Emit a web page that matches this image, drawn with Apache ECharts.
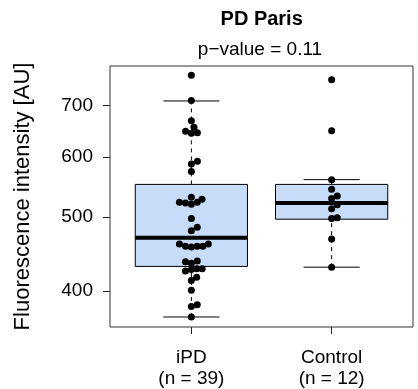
<!DOCTYPE html>
<html>
<head>
<meta charset="utf-8">
<script src="https://cdn.jsdelivr.net/npm/echarts@6/dist/echarts.min.js"></script>
<style>html,body{margin:0;padding:0;background:#fff;}#chart{width:418px;height:389px;}</style>
</head>
<body>
<div id="chart"></div>
<script>
// ---- data ----
const categories = ['iPD', 'Control'];
const groupN = [39, 12];
const positions = [1, 2];
const whiskerLow = [370, 430];
const q1 = [431, 497];
const median = [470, 522];
const q3 = [552, 552];
const whiskerHigh = [710, 560];
const ipdValues = [767, 711, 669, 656, 648, 644, 645, 592, 587, 574, 531, 528, 523, 522, 520, 523, 498, 480, 485,
  461, 458, 457, 458, 458, 461, 437, 435, 438, 425, 427, 428, 428, 413, 417, 401, 382, 384, 370];
const ipdOffsets = [0, 0, 0, 0.019, -0.041, 0, 0.043, 0.043, 0, 0, 0, 0.076, -0.085, -0.042, 0, 0.042, 0, 0, 0.042,
  -0.085, -0.042, 0, 0.041, 0.082, 0.121, -0.042, 0, 0.042, -0.042, 0, 0.038, 0.077, 0, 0.038, 0, 0, 0.042, 0];
const controlValues = [757, 649, 560, 544, 533, 529, 519, 513, 498, 499, 468, 430];
const controlOffsets = [0, 0, 0, 0, 0.04, 0, 0.04, 0, 0, 0.04, 0, 0];
const yTicks = [400, 500, 600, 700];
const yMin = 359, yMax = 789;

const L = v => Math.log10(v);
const boxData = positions.map((p, i) => [p, L(whiskerLow[i]), L(q1[i]), L(median[i]), L(q3[i]), L(whiskerHigh[i])]);
const pts = [];
ipdValues.forEach((v, i) => pts.push([positions[0] + ipdOffsets[i], L(v)]));
controlValues.forEach((v, i) => pts.push([positions[1] + controlOffsets[i], L(v)]));

const FONT = 'Liberation Sans, Arial, Helvetica, sans-serif';
const chart = echarts.init(document.getElementById('chart'), null, {renderer: 'canvas'});
chart.setOption({
  animation: false,
  backgroundColor: '#fff',
  title: [
    {text: 'PD Paris', left: '62.6%', top: 9, textAlign: 'center', padding: 0,
     textStyle: {fontFamily: FONT, fontSize: 20, fontWeight: 'bold', color: '#000'}},
    {text: 'p\u2212value = 0.11', left: '62.2%', top: 40, textAlign: 'center', padding: 0,
     textStyle: {fontFamily: FONT, fontSize: 19, fontWeight: 'normal', color: '#000'}}
  ],
  grid: {left: 110, right: 5, top: 66, bottom: 62, show: true, borderColor: '#333', borderWidth: 1, backgroundColor: 'transparent'},
  xAxis: {
    type: 'value', min: 0.42, max: 2.58,
    splitLine: {show: false}, axisLine: {show: false},
    axisTick: {show: true, customValues: positions, length: 7, lineStyle: {color: '#222'}},
    axisLabel: {
      customValues: positions, margin: 20, fontSize: 19, lineHeight: 21, color: '#000', fontFamily: FONT,
      formatter: v => { const i = positions.indexOf(Math.round(v)); return categories[i] + '\n(n = ' + groupN[i] + ')'; }
    }
  },
  yAxis: {
    type: 'value', min: L(yMin), max: L(yMax),
    name: 'Fluorescence intensity [AU]', nameLocation: 'middle', nameGap: 76,
    nameTextStyle: {fontFamily: FONT, fontSize: 22, color: '#000'},
    splitLine: {show: false}, axisLine: {show: false},
    axisTick: {show: true, customValues: yTicks.map(L), length: 7, lineStyle: {color: '#222'}},
    axisLabel: {
      customValues: yTicks.map(L), margin: 17, fontSize: 19, color: '#000', fontFamily: FONT,
      formatter: v => String(Math.round(Math.pow(10, v)))
    }
  },
  series: [
    {
      type: 'custom', z: 2,
      data: boxData,
      encode: {x: 0, y: [1, 2, 3, 4, 5]},
      renderItem: function (params, api) {
        const x = api.value(0);
        const pLo = api.coord([x, api.value(1)]);
        const pA = api.coord([x, api.value(2)]);
        const pM = api.coord([x, api.value(3)]);
        const pB = api.coord([x, api.value(4)]);
        const pHi = api.coord([x, api.value(5)]);
        const halfBox = api.size([0.8, 0])[0] / 2;
        const halfCap = api.size([0.4, 0])[0] / 2;
        const dash = {stroke: '#000', lineWidth: 1, lineDash: [4, 4]};
        const solid = {stroke: '#000', lineWidth: 1};
        return {type: 'group', children: [
          {type: 'line', shape: {x1: pLo[0], y1: pLo[1], x2: pA[0], y2: pA[1]}, style: dash},
          {type: 'line', shape: {x1: pB[0], y1: pB[1], x2: pHi[0], y2: pHi[1]}, style: dash},
          {type: 'line', shape: {x1: pLo[0] - halfCap, y1: pLo[1], x2: pLo[0] + halfCap, y2: pLo[1]}, style: solid},
          {type: 'line', shape: {x1: pHi[0] - halfCap, y1: pHi[1], x2: pHi[0] + halfCap, y2: pHi[1]}, style: solid},
          {type: 'rect', shape: {x: pB[0] - halfBox, y: pB[1], width: 2 * halfBox, height: pA[1] - pB[1]},
           style: {fill: '#c6dcf8', stroke: '#000', lineWidth: 1}},
          {type: 'line', shape: {x1: pM[0] - halfBox, y1: pM[1], x2: pM[0] + halfBox, y2: pM[1]},
           style: {stroke: '#000', lineWidth: 4}}
        ]};
      }
    },
    {
      type: 'scatter', z: 3, data: pts, symbol: 'circle', symbolSize: 7,
      itemStyle: {color: '#000', opacity: 1}
    }
  ]
});
</script>
</body>
</html>
